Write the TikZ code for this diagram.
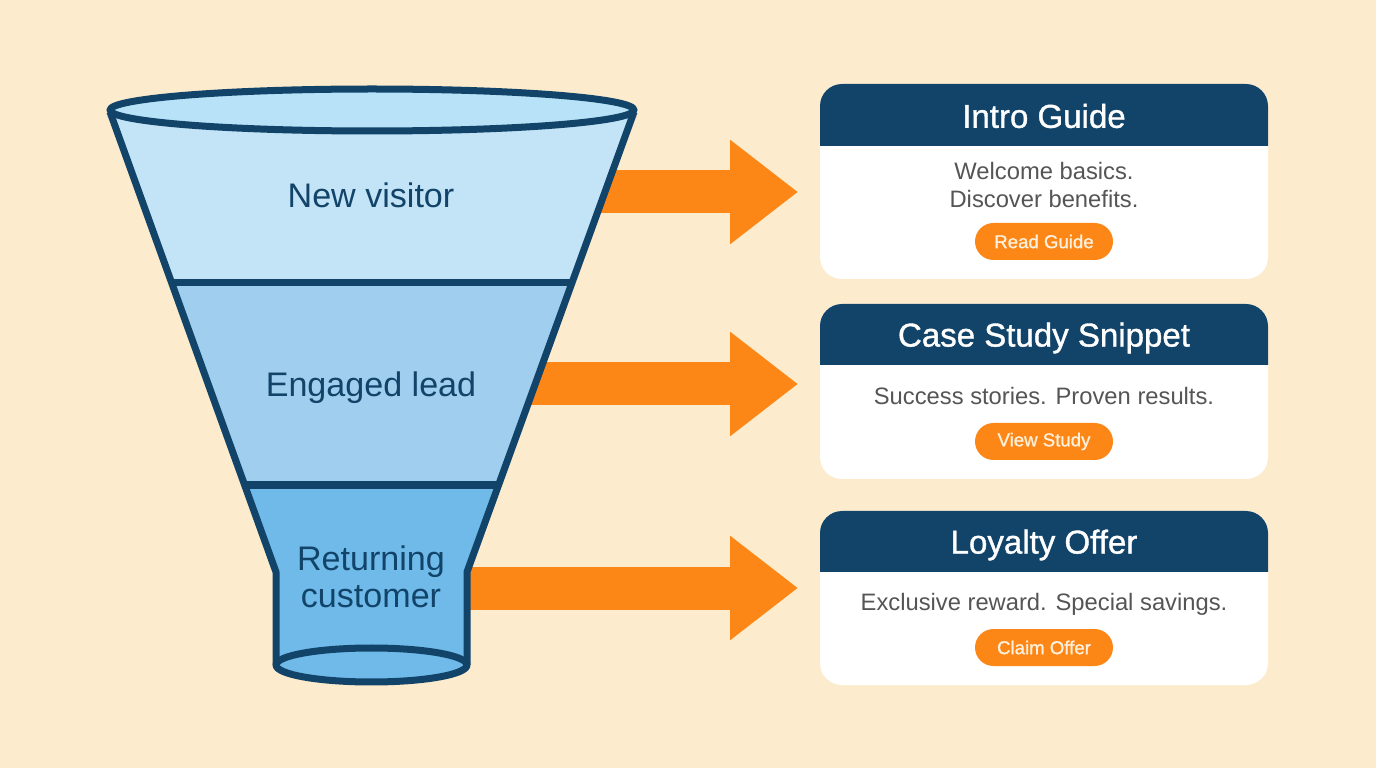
\documentclass[tikz,border=0pt]{standalone}
\usepackage{fontspec}
\setmainfont{Liberation Sans}
\newfontfamily\cardfont[FakeBold=1.1]{Liberation Sans}
\usetikzlibrary{arrows.meta}
\definecolor{pagebg}{HTML}{FDEBCD}
\definecolor{navy}{HTML}{12446A}
\definecolor{bandtop}{HTML}{C3E4F7}
\definecolor{bandrim}{HTML}{B8E2F8}
\definecolor{bandmid}{HTML}{A0CEEE}
\definecolor{bandlow}{HTML}{6FBAE9}
\definecolor{flow}{HTML}{FD8716}
\definecolor{bodygrey}{HTML}{555555}
\definecolor{btntext}{HTML}{FDF0DC}
\pgfdeclarelayer{back}
\pgfsetlayers{back,main}
\tikzset{
  funnelline/.style={draw=navy, line width=0.07cm, line join=round},
  bandlabel/.style={text=navy, font=\fontsize{9.7pt}{10.5pt}\selectfont, align=center},
  flowarrow/.style={draw=flow, line width=0.43cm, -{Triangle[width=1.0cm,length=0.68cm]}},
  cardbox/.style={fill=white, rounded corners=0.22cm, minimum width=4.48cm, inner sep=0pt},
  cardhead/.style={fill=navy, rounded corners=0.22cm},
  cardtitle/.style={text=white, font=\fontsize{9.4pt}{10pt}\cardfont},
  cardbody/.style={text=bodygrey, font=\fontsize{6.76pt}{8pt}\selectfont, align=center},
  cardbtn/.style={fill=flow, rounded corners=0.185cm, minimum width=1.38cm, minimum height=0.37cm, inner sep=0pt, text=btntext, font=\fontsize{5.3pt}{6pt}\cardfont},
}

\begin{document}
\begin{tikzpicture}
  \useasboundingbox (0cm,0cm) rectangle (13.76cm,-7.68cm);

  \node[bandlabel] (visitor) at (3.71cm,-1.95cm) {New visitor};
  \node[bandlabel] (lead) at (3.71cm,-3.88cm) {Engaged lead};
  \node[bandlabel] (customer) at (3.71cm,-5.77cm) {Returning\\customer};

  \node[cardbox, minimum height=1.95cm] (guide) at (10.44cm,-1.815cm) {};
  \node[cardbox, minimum height=1.75cm] (study) at (10.44cm,-3.915cm) {};
  \node[cardbox, minimum height=1.74cm] (offer) at (10.44cm,-5.98cm) {};

  \fill[cardhead] (8.2cm,-1.46cm) -- (8.2cm,-0.84cm) -- (12.68cm,-0.84cm) [sharp corners] -- (12.68cm,-1.46cm) -- cycle;
  \fill[cardhead] (8.2cm,-3.65cm) -- (8.2cm,-3.04cm) -- (12.68cm,-3.04cm) [sharp corners] -- (12.68cm,-3.65cm) -- cycle;
  \fill[cardhead] (8.2cm,-5.72cm) -- (8.2cm,-5.11cm) -- (12.68cm,-5.11cm) [sharp corners] -- (12.68cm,-5.72cm) -- cycle;

  \node[cardtitle] (guidetitle) at (10.44cm,-1.16cm) {Intro Guide};
  \node[cardbody] (guidetext) at (10.44cm,-1.85cm) {Welcome basics.\\Discover benefits.};
  \node[cardbtn] (guidebtn) at (10.44cm,-2.415cm) {Read Guide};

  \node[cardtitle] (studytitle) at (10.44cm,-3.38cm) {Case Study Snippet};
  \node[cardbody] (studytext) at (10.44cm,-3.96cm) {Success stories. Proven results.};
  \node[cardbtn] (studybtn) at (10.44cm,-4.415cm) {View Study};

  \node[cardtitle] (offertitle) at (10.44cm,-5.45cm) {Loyalty Offer};
  \node[cardbody] (offertext) at (10.44cm,-6.04cm) {Exclusive reward. Special savings.};
  \node[cardbtn] (offerbtn) at (10.44cm,-6.475cm) {Claim Offer};

  \coordinate (guidetip) at (7.98cm,-1.92cm);
  \coordinate (studytip) at (7.98cm,-3.84cm);
  \coordinate (offertip) at (7.98cm,-5.88cm);

  \begin{pgfonlayer}{back}
    \fill[pagebg] (0cm,0cm) rectangle (13.76cm,-7.68cm);

    \draw[flowarrow] (visitor.east |- guidetip) -- (guidetip);
    \draw[flowarrow] (lead.east |- studytip) -- (studytip);
    \draw[flowarrow] (customer.east |- offertip) -- (offertip);

    \fill[bandtop] (1.10cm,-1.12cm) -- (6.34cm,-1.12cm) -- (5.72cm,-2.83cm) -- (1.72cm,-2.83cm) -- cycle;
    \fill[bandmid] (1.72cm,-2.83cm) -- (5.72cm,-2.83cm) -- (4.99cm,-4.85cm) -- (2.45cm,-4.85cm) -- cycle;
    \fill[bandlow] (2.45cm,-4.85cm) -- (4.99cm,-4.85cm) -- (4.67cm,-5.72cm) -- (4.67cm,-6.65cm) -- (2.76cm,-6.65cm) -- (2.76cm,-5.72cm) -- cycle;
    \fill[bandlow] (3.715cm,-6.65cm) ellipse (0.955cm and 0.17cm);

    \draw[funnelline] (1.72cm,-2.83cm) -- (5.72cm,-2.83cm);
    \draw[funnelline] (2.45cm,-4.85cm) -- (4.99cm,-4.85cm);
    \draw[funnelline] (1.10cm,-1.12cm) -- (2.76cm,-5.72cm) -- (2.76cm,-6.65cm);
    \draw[funnelline] (6.34cm,-1.12cm) -- (4.67cm,-5.72cm) -- (4.67cm,-6.65cm);
    \draw[funnelline, fill=bandrim] (3.72cm,-1.10cm) ellipse (2.62cm and 0.21cm);
    \draw[funnelline, fill=bandlow] (3.715cm,-6.65cm) ellipse (0.955cm and 0.17cm);
  \end{pgfonlayer}
\end{tikzpicture}
\end{document}
